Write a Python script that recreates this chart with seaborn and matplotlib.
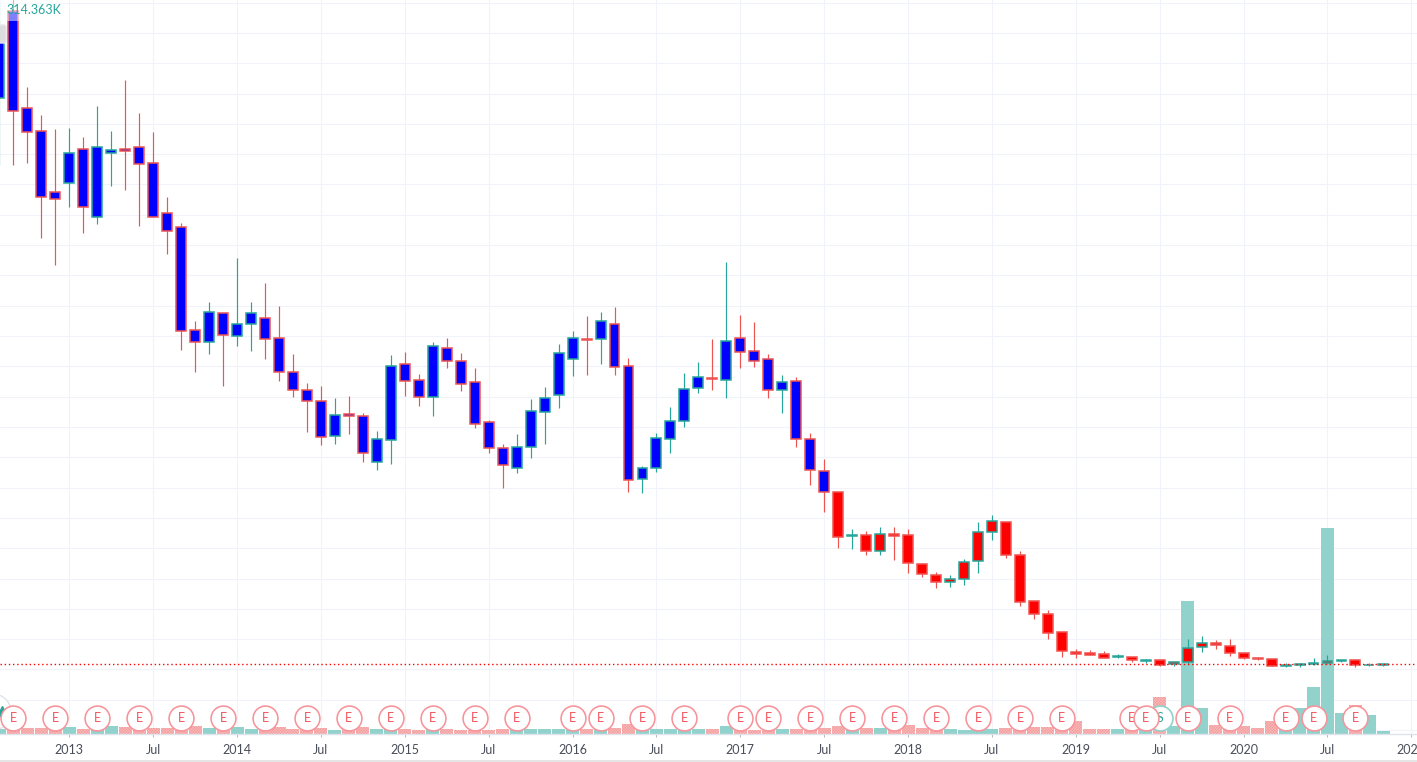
import numpy as np
import pandas as pd
import matplotlib
matplotlib.use('Agg')
import matplotlib.pyplot as plt
from matplotlib.lines import Line2D
from matplotlib.patches import Circle, Rectangle, FancyBboxPatch
from matplotlib.transforms import IdentityTransform, blended_transform_factory
import seaborn as sns

candle_open = [282.8, 325.9, 277.7, 266.3, 236.1, 240.9, 257.4, 224.0, 255.7, 257.4, 258.4, 250.5, 225.7, 218.8, 167.8, 161.9,
               176.2, 164.8, 170.8, 173.7, 163.8, 147.0, 138.1, 132.7, 115.3, 126.2, 125.2, 102.5, 113.4, 151.0, 143.1, 134.6,
               158.9, 152.5, 142.1, 122.3, 109.4, 99.5, 109.9, 127.2, 135.6, 153.5, 163.4, 163.4, 170.8, 150.0, 94.1, 99.5,
               113.9, 122.8, 139.1, 144.0, 143.1, 163.8, 157.4, 153.5, 138.1, 142.6, 113.9, 98.0, 87.6, 65.8, 66.3, 58.4,
               66.8, 66.3, 52.0, 46.5, 43.1, 44.6, 53.5, 67.8, 72.8, 56.4, 33.7, 27.2, 18.3, 8.4, 7.9, 7.4,
               6.2, 6.4, 4.3, 4.5, 2.5, 3.5, 10.9, 12.9, 11.4, 7.9, 5.9, 5.0, 1.5, 2.0, 2.5, 3.0, 4.3, 4.5, 2.0, 2.0]
candle_close = [317.4, 276.2, 265.8, 233.9, 232.9, 255.4, 228.7, 258.4, 256.9, 256.7, 250.0, 223.7, 216.8, 167.3, 161.9, 176.7,
                165.3, 170.8, 176.2, 163.4, 147.0, 138.1, 132.7, 114.8, 125.7, 125.2, 106.9, 113.9, 150.0, 142.6, 134.6, 159.9,
                152.5, 141.1, 121.3, 109.4, 101.0, 109.9, 127.7, 134.1, 156.4, 163.8, 162.9, 172.3, 149.5, 93.6, 99.5, 114.3,
                122.8, 138.6, 144.5, 143.6, 162.4, 156.9, 152.5, 138.1, 142.1, 113.9, 98.5, 87.6, 65.3, 66.5, 58.4, 66.8,
                65.8, 52.5, 47.0, 43.1, 44.6, 53.0, 67.8, 73.3, 56.4, 33.2, 27.2, 17.8, 8.9, 7.7, 7.2, 5.9,
                6.6, 4.5, 4.6, 2.3, 3.5, 10.4, 12.9, 11.9, 7.9, 5.9, 5.0, 1.5, 2.0, 2.5, 3.0, 4.0, 4.5, 2.0, 2.1, 2.5]
candle_high = [335.0, 335.0, 288.2, 274.4, 267.4, 267.9, 263.5, 278.8, 266.5, 291.7, 275.4, 266.0, 233.8, 220.9, 172.4, 181.8,
               176.4, 203.6, 181.8, 191.2, 179.8, 156.1, 141.7, 140.2, 134.3, 135.3, 126.7, 117.8, 155.4, 157.1, 146.0, 162.0,
               163.8, 156.4, 149.1, 123.4, 111.5, 116.5, 133.8, 139.7, 161.0, 167.5, 174.9, 176.9, 179.3, 154.1, 100.6, 117.0,
               129.8, 146.7, 152.1, 163.5, 201.6, 175.4, 171.9, 156.1, 145.7, 144.7, 117.0, 104.1, 87.6, 69.4, 68.5, 70.4,
               70.4, 69.4, 52.8, 48.2, 46.7, 54.6, 72.9, 76.4, 72.8, 58.6, 33.7, 29.4, 18.3, 10.0, 9.6, 9.1,
               7.4, 6.4, 5.2, 4.5, 3.8, 15.0, 16.5, 14.5, 15.0, 7.9, 6.4, 5.0, 3.0, 3.0, 5.6, 7.1, 4.6, 5.0, 3.0, 2.8]
candle_low = [249.6, 249.6, 250.8, 213.5, 200.1, 228.8, 216.0, 220.4, 239.2, 237.3, 219.4, 223.7, 205.6, 158.1, 147.2, 156.1,
              140.2, 160.0, 157.6, 153.6, 142.7, 134.9, 117.6, 111.2, 111.7, 116.6, 102.8, 98.8, 101.8, 135.4, 130.3, 125.4,
              149.3, 137.8, 119.6, 107.2, 89.7, 97.2, 104.6, 111.5, 129.3, 145.2, 145.7, 151.1, 145.7, 87.8, 87.3, 97.7,
              107.1, 119.9, 136.8, 138.3, 134.3, 149.1, 149.6, 134.3, 126.9, 110.0, 91.2, 77.9, 60.0, 59.7, 56.6, 56.6,
              54.1, 47.7, 45.7, 40.2, 40.7, 41.7, 47.7, 64.0, 55.1, 31.3, 24.9, 15.0, 6.1, 5.6, 7.2, 5.7,
              5.6, 3.6, 3.3, 1.8, 1.8, 2.5, 8.7, 10.2, 6.7, 5.2, 4.5, 1.5, 1.1, 1.1, 2.0, 2.5, 3.8, 1.3, 1.8, 1.6]
# volume per month (K)
volume = [6, 6, 7.5, 7.5, 6, 9, 6, 6, 10.5, 9, 7.5, 7.5, 7.5, 6, 10.5, 7.5,
          6, 9, 6, 6, 9, 6, 6, 7.5, 4.5, 6, 9, 6, 6, 6, 4.5, 6,
          6, 4.5, 4.5, 4.5, 6, 6, 6, 6, 6, 6, 6, 6, 7.5, 13.5, 6, 6,
          6, 6, 6, 6, 10.5, 6, 4.5, 6, 6, 6, 6, 7.5, 10.5, 6, 7.5, 7.5,
          6, 12, 7.5, 6, 6, 4.5, 6, 6, 7.5, 6, 9, 9, 6, 18, 6, 6,
          6, 6, 6, 54, 10.5, 198, 37.5, 12, 6, 10.5, 7.5, 18, 7.5, 37.5, 69, 307.5, 30, 42, 27, 3]
# months since Jan 2013 with an earnings / split flag
earnings_months = [-4, -1, 2, 5, 8, 11, 14, 17, 20, 23, 26, 29, 32, 36, 38, 41, 44, 48, 50, 53, 56, 59, 62, 65, 68, 71,
                   76, 77, 80, 83, 87, 89, 92]
split_months = [78]
tick_months = [0, 6, 12, 18, 24, 30, 36, 42, 48, 54, 60, 66, 72, 78, 84, 90, 96]
tick_labels = ['2013', 'Jul', '2014', 'Jul', '2015', 'Jul', '2016', 'Jul', '2017', 'Jul', '2018', 'Jul', '2019', 'Jul', '2020', 'Jul', '2021']
last_price = 2.6
header_value = '314.363K'

TEAL = '#26a69a'
RED = '#ef5350'
GRID = '#f0f3fa'

W, H = 1417, 762
AX_H = 733.5

sns.set_theme(style='white')
plt.rcParams['font.family'] = ['Lato', 'DejaVu Sans']
plt.rcParams['hatch.linewidth'] = 0.35

df = pd.DataFrame({'month': np.arange(len(volume)) - 5, 'open': candle_open, 'close': candle_close,
                   'high': candle_high, 'low': candle_low, 'volume': volume})
df['dir'] = np.where(df['close'] >= df['open'], 'up', 'down')
# first part of the history has blue bodies, the rest red
df['fill'] = np.where(df['month'] <= 54, '#0000ff', '#ff0000')
df['edge'] = df['dir'].map({'up': TEAL, 'down': RED})

fig = plt.figure(figsize=(W / 100, H / 100), dpi=100)
fig.patch.set_facecolor('white')

# volume pane sits below the price pane and carries the grid
ax_vol = fig.add_axes([0, (H - AX_H) / H, 1, AX_H / H])
ax = ax_vol.twinx()
ax_vol.set_zorder(1)
ax.set_zorder(2)
ax.patch.set_visible(False)

sns.barplot(data=df, x='month', y='volume', hue='dir', hue_order=['up', 'down'],
            palette={'up': '#92d2cc', 'down': '#fabcbc'}, saturation=1, native_scale=True, dodge=False,
            width=0.93, gap=0, legend=False, ax=ax_vol, zorder=2, linewidth=0)
for bar in ax_vol.containers[1]:
    bar.set_hatch('xxxxxxxxxxxx')
    bar.set_edgecolor('#f29a9a')
    bar.set_linewidth(0)

price_min, price_max = -31.7, 331.3
vol_max = 1100
price_ticks = np.arange(-30, 331, 15)
ax.set_ylim(price_min, price_max)
ax_vol.set_ylim(0, vol_max)
ax_vol.set_yticks((price_ticks - price_min) / (price_max - price_min) * vol_max)

# x scale: one candle is just under 14 px
xmin = -69.3 / 13.98
xmax = (W - 69.3) / 13.98
ax_vol.set_xlim(xmin, xmax)
ax.set_xlim(xmin, xmax)

ax_vol.grid(True, color=GRID, lw=0.8, zorder=0)
ax_vol.set_axisbelow(True)
ax_vol.set_xticks(tick_months)
ax_vol.set_xticklabels(tick_labels, fontsize=9, color='#4a4e59')
ax_vol.tick_params(axis='x', length=2.5, width=0.7, color='#b2b5be', pad=5, bottom=True)
ax_vol.tick_params(axis='y', left=False, labelleft=False)
ax.tick_params(axis='y', right=False, labelright=False)
ax_vol.set_xlabel('')
ax_vol.set_ylabel('')
ax.set_ylabel('')
for side in ['top', 'left', 'right']:
    ax_vol.spines[side].set_visible(False)
    ax.spines[side].set_visible(False)
ax.spines['bottom'].set_visible(False)
ax_vol.spines['bottom'].set_color('#e0e3eb')
ax_vol.spines['bottom'].set_linewidth(1.0)

# wicks and bodies
ax.vlines(df['month'], df['low'], df['high'], colors=df['edge'], lw=0.85, zorder=3)
ax.bar(df['month'], (df['close'] - df['open']).abs(), bottom=df[['open', 'close']].min(axis=1), width=0.71,
       color=df['fill'], edgecolor=df['edge'], linewidth=1.1, zorder=4)

# last price line
ax.axhline(last_price, color='#ff0000', lw=1.0, ls=(0, (1, 2)), zorder=5)

# round button cut off by the left edge
ax.add_patch(Circle((-7, H - 712), 18, transform=IdentityTransform(), facecolor='white',
                    edgecolor='#e0e3eb', lw=1, zorder=6, clip_on=False))
ax.add_line(Line2D([2], [H - 711], marker='^', ms=7, color=TEAL, ls='', transform=IdentityTransform(), zorder=6.5))

# event flags, stay at a fixed height above the time axis
flag_tr = blended_transform_factory(ax.transData, ax.transAxes)
flag_y = (AX_H - 717.5) / AX_H
ax.scatter(split_months, [flag_y] * len(split_months), s=320, transform=flag_tr, facecolor='white',
           edgecolor='#8fd3cc', linewidth=1.2, zorder=7, clip_on=False)
for m in split_months:
    ax.text(m, flag_y, 'S', transform=flag_tr, ha='center', va='center', fontsize=9, color=TEAL, zorder=7.1)
for i, m in enumerate(earnings_months):
    ax.scatter([m], [flag_y], s=320, transform=flag_tr, facecolor='white', edgecolor='#f7939a',
               linewidth=1.15, zorder=8 + i * 0.01)
    ax.text(m, flag_y, 'E', transform=flag_tr, ha='center', va='center', fontsize=9, color='#f2555f',
            zorder=8 + i * 0.01 + 0.005)

# header strip with the value, washes out what is underneath
fig.add_artist(Rectangle((0, H - 21), 63, 21, transform=IdentityTransform(), facecolor='white',
                         alpha=0.5, edgecolor='none', zorder=10))
fig.add_artist(FancyBboxPatch((-3, H - 43), 9, 18, boxstyle='round,pad=0,rounding_size=2', transform=IdentityTransform(),
                              facecolor='#dcdddf', edgecolor='#e6e6e6', lw=1, zorder=10))
fig.text(6 / W, (H - 9.5) / H, header_value, color=TEAL, fontsize=9, ha='left', va='center', zorder=11)

# frame line under the time axis
fig.add_artist(Line2D([0, 1], [1 / H, 1 / H], color='#e0e0e0', lw=1.2, transform=fig.transFigure, zorder=11))

fig.savefig('out.png', dpi=100)
